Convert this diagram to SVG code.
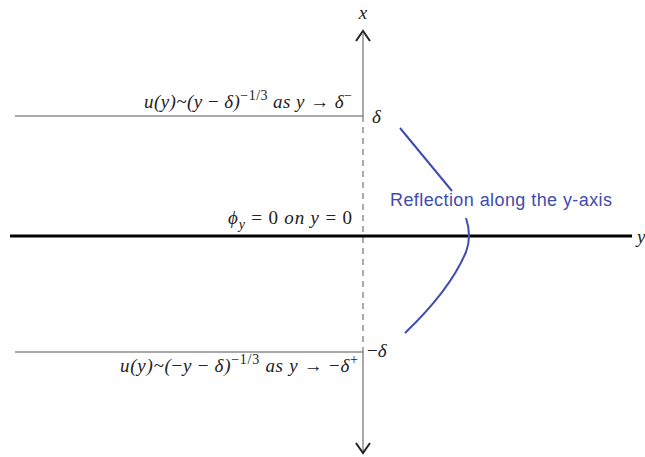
<svg xmlns="http://www.w3.org/2000/svg" width="645" height="457" viewBox="0 0 645 457">
<style>
.m{font-family:"Liberation Serif","DejaVu Serif",serif;font-style:italic;font-size:19px;fill:#222}
.n{font-family:"Liberation Serif","DejaVu Serif",serif;font-style:normal}
.thin{stroke:#555;stroke-width:1;fill:none}
.blue{stroke:#3f4bb0;stroke-width:2;fill:none}
</style>
<rect width="645" height="457" fill="#fff"/>
<g id="connectors">
<line class="thin" x1="363" y1="34" x2="363" y2="116"/>
<line class="thin" x1="363" y1="116" x2="363" y2="352" stroke-dasharray="6,5"/>
<line class="thin" x1="363" y1="352" x2="363" y2="452"/>
<polyline points="356,41 363,31 370,41" fill="none" stroke="#222" stroke-width="2"/>
<polyline points="356,443 363,453 370,443" fill="none" stroke="#222" stroke-width="2"/>
<line x1="10" y1="236" x2="632" y2="236" stroke="#000" stroke-width="3"/>
<line class="thin" x1="15" y1="116" x2="363" y2="116"/>
<line class="thin" x1="15" y1="352" x2="363" y2="352"/>
<line class="blue" x1="400" y1="128" x2="452" y2="191"/>
<path class="blue" d="M466,218 Q472,236 466,252 Q450,290 405,333"/>
</g>
<g id="axis-x"><text class="m" x="363" y="19" text-anchor="middle">x</text></g>
<g id="axis-y"><text class="m" x="637" y="243">y</text></g>
<g id="label-top"><text class="m" x="352" y="108" text-anchor="end" textLength="208">u(y)~(y <tspan class="n">−</tspan> δ)<tspan dy="-8" font-size="14"><tspan class="n">−1/3</tspan></tspan><tspan dy="8"> as y <tspan class="n">→</tspan> δ</tspan><tspan dy="-8" font-size="14" class="n">−</tspan></text></g>
<g id="delta-top"><text class="m" x="372" y="123">δ</text></g>
<g id="label-mid"><text class="m" x="352" y="224" text-anchor="end" textLength="124">ϕ<tspan dy="5" font-size="14">y</tspan><tspan dy="-5"> <tspan class="n">= 0</tspan> on y <tspan class="n">= 0</tspan></tspan></text></g>
<g id="delta-bottom"><text class="m" x="367" y="357"><tspan class="n">−</tspan>δ</text></g>
<g id="label-bottom"><text class="m" x="358" y="372" text-anchor="end" textLength="238">u(y)~(<tspan class="n">−</tspan>y <tspan class="n">−</tspan> δ)<tspan dy="-8" font-size="14" class="n">−1/3</tspan><tspan dy="8"> as y <tspan class="n">→</tspan> <tspan class="n">−</tspan>δ</tspan><tspan dy="-8" font-size="14" class="n">+</tspan></text></g>
<g id="reflection"><text x="390" y="206" font-family="Liberation Sans, Arial, sans-serif" font-size="18" fill="#3f4bb0" textLength="222">Reflection along the y-axis</text></g>
</svg>
